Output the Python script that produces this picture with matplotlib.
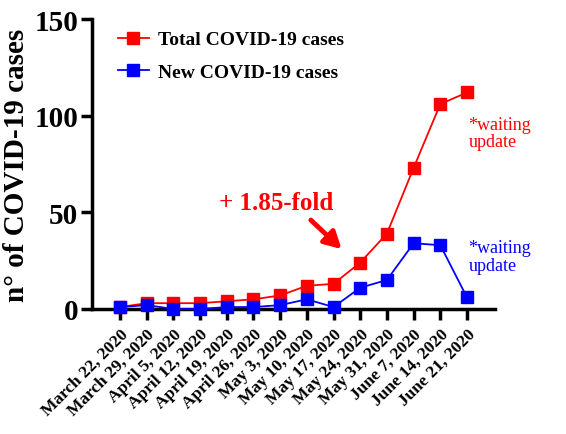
import matplotlib
matplotlib.use("Agg")
import matplotlib.pyplot as plt

dates = [
    "March 22, 2020", "March 29, 2020", "April 5, 2020", "April 12, 2020",
    "April 19, 2020", "April 26, 2020", "May 3, 2020", "May 10, 2020",
    "May 17, 2020", "May 24, 2020", "May 31, 2020", "June 7, 2020",
    "June 14, 2020", "June 21, 2020",
]
total_cases = [1, 3, 3, 3, 4, 5, 7, 12, 13, 24, 39, 73, 106, 112]
new_cases = [1, 2, 0, 0, 1, 1, 2, 5, 1, 11, 15, 34, 33, 6]
y_ticks = [0, 50, 100, 150]

plt.rcParams["font.family"] = ["Liberation Serif", "DejaVu Serif"]

fig = plt.figure(figsize=(5.66, 4.35), dpi=100)
ax = fig.add_axes([0.1625, 0.2874, 0.7121, 0.6666])

x = list(range(len(dates)))
ax.plot(x, total_cases, color="#ff0000", marker="s", markersize=9, linewidth=1.3,
        label="Total COVID-19 cases", clip_on=False, zorder=3)
ax.plot(x, new_cases, color="#0000ff", marker="s", markersize=9, linewidth=1.3,
        label="New COVID-19 cases", clip_on=False, zorder=4)

ax.set_xlim(-1.05, 14.05)
ax.set_ylim(0, 150)
ax.set_yticks(y_ticks)
ax.set_yticklabels([str(v) for v in y_ticks], fontsize=21, fontweight="bold")
ax.set_xticks(x)
ax.set_xticklabels(dates, rotation=45, ha="right", rotation_mode="anchor",
                   fontsize=12.5, fontweight="bold")
ax.set_ylabel("n° of COVID-19 cases", fontsize=21, fontweight="bold", labelpad=3)

for side in ("top", "right"):
    ax.spines[side].set_visible(False)
for side in ("left", "bottom"):
    ax.spines[side].set_linewidth(2.5)
ax.tick_params(axis="both", width=2.5, length=8, direction="out", pad=4)
ax.tick_params(axis="y", pad=2)

ax.legend(loc="upper left", bbox_to_anchor=(0.02, 1.02), frameon=False,
          prop={"weight": "bold", "size": 14}, handlelength=1.6,
          handletextpad=0.5, labelspacing=0.75)

ax.text(5.85, 55, "+ 1.85-fold", color="#ff0000", fontsize=18,
        fontweight="bold", ha="center", va="center")
ax.annotate("", xy=(8.3, 31), xytext=(7.15, 46),
            arrowprops=dict(arrowstyle="-|>,head_length=1.0,head_width=0.55",
                            color="#ff0000", lw=3.5, shrinkA=0, shrinkB=0))

ax.text(13.05, 91, "*waiting\nupdate", color="#ff0000", fontsize=13,
        ha="left", va="center", linespacing=1.05, clip_on=False)
ax.text(13.05, 27, "*waiting\nupdate", color="#0000ff", fontsize=13,
        ha="left", va="center", linespacing=1.05, clip_on=False)

fig.savefig("out.png", dpi=100)
